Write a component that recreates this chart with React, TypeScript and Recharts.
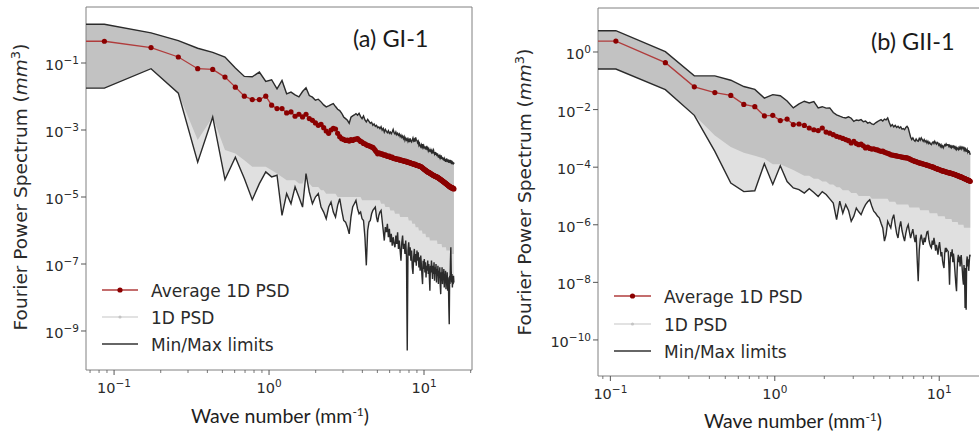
import React from 'react';
import { ComposedChart, Line, Area, XAxis, YAxis, ReferenceArea } from 'recharts';

// wave-number step of each panel (FFT bins k = n * dk), and the zero-frequency bin,
// which matplotlib clips at the left edge of a log axis
const DK_A = 0.0866;
const DK_B = 0.108;
const DC_K = 0.001;

// ---------- Panel (a) GI-1 : log10 of PSD values (mm^3) ----------
const avgA = [
  -0.35, -0.54, -0.82, -1.17, -1.19, -1.42, -1.72, -1.99, -2.09, -2.09,
  -1.99, -2.26, -2.36, -2.36, -2.49, -2.46, -2.59, -2.53, -2.61, -2.53,
  -2.66, -2.71, -2.79, -2.86, -2.83, -2.93, -3.03, -3.10, -3.00, -2.95,
  -2.97, -3.10, -3.20, -3.26, -3.28, -3.31, -3.30, -3.33, -3.29, -3.31,
  -3.28, -3.27, -3.26, -3.30, -3.34, -3.36, -3.40, -3.41, -3.44, -3.46,
  -3.47, -3.49, -3.51, -3.52, -3.56, -3.61, -3.66, -3.71, -3.68, -3.70,
  -3.72, -3.71, -3.74, -3.75, -3.74, -3.77, -3.78, -3.79, -3.78, -3.81,
  -3.82, -3.81, -3.84, -3.85, -3.86, -3.85, -3.87, -3.88, -3.87, -3.89,
  -3.90, -3.89, -3.91, -3.92, -3.91, -3.93, -3.94, -3.93, -3.95, -3.96,
  -3.95, -3.97, -3.98, -3.97, -3.99, -4.00, -4.01, -4.00, -4.02, -4.03,
  -4.02, -4.04, -4.05, -4.05, -4.06, -4.07, -4.06, -4.08, -4.09, -4.09,
  -4.10, -4.12, -4.13, -4.15, -4.16, -4.18, -4.19, -4.20, -4.21, -4.23,
  -4.24, -4.25, -4.26, -4.27, -4.27, -4.29, -4.30, -4.30, -4.32, -4.33,
  -4.33, -4.35, -4.36, -4.36, -4.37, -4.38, -4.38, -4.39, -4.40, -4.40,
  -4.41, -4.42, -4.43, -4.44, -4.45, -4.46, -4.47, -4.48, -4.49, -4.50,
  -4.51, -4.52, -4.53, -4.54, -4.55, -4.56, -4.57, -4.58, -4.59, -4.60,
  -4.61, -4.62, -4.63, -4.64, -4.65, -4.66, -4.67, -4.68, -4.69, -4.70,
  -4.70, -4.71, -4.72, -4.71, -4.73, -4.74, -4.73, -4.75, -4.74, -4.76,
];
const maxA = [
  0.155, -0.10, -0.33, -0.56, -0.68, -0.82, -1.15, -1.40, -1.41, -1.27,
  -1.55, -1.50, -1.77, -1.52, -1.92, -1.87, -1.95, -2.01, -1.85, -1.74,
  -1.97, -2.02, -2.11, -2.08, -2.16, -2.25, -2.31, -2.28, -2.24, -2.21,
  -2.30, -2.38, -2.42, -2.50, -2.61, -2.66, -2.71, -2.80, -2.62, -2.58,
  -2.55, -2.51, -2.56, -2.50, -2.60, -2.66, -2.58, -2.70, -2.76, -2.68,
  -2.74, -2.80, -2.77, -2.86, -2.82, -2.89, -2.86, -2.93, -2.91, -2.96,
  -2.90, -3.00, -2.95, -3.06, -2.98, -3.04, -3.08, -3.02, -3.10, -3.06,
  -3.11, -3.05, -2.98, -3.08, -3.12, -3.06, -3.14, -3.10, -3.16, -3.12,
  -3.20, -3.15, -3.22, -3.18, -3.26, -3.20, -3.31, -3.24, -3.30, -3.26,
  -3.34, -3.28, -3.36, -3.25, -3.33, -3.36, -3.30, -3.24, -3.32, -3.28,
  -3.35, -3.22, -3.30, -3.31, -3.38, -3.34, -3.45, -3.40, -3.48, -3.51,
  -3.44, -3.50, -3.42, -3.52, -3.47, -3.55, -3.49, -3.58, -3.52, -3.50,
  -3.60, -3.55, -3.62, -3.57, -3.64, -3.58, -3.66, -3.60, -3.66, -3.62,
  -3.70, -3.64, -3.60, -3.68, -3.72, -3.66, -3.74, -3.69, -3.71, -3.78,
  -3.70, -3.76, -3.82, -3.74, -3.80, -3.77, -3.84, -3.81, -3.76, -3.86,
  -3.80, -3.88, -3.82, -3.90, -3.84, -3.92, -3.86, -3.90, -3.95, -3.87,
  -3.93, -3.85, -3.96, -3.89, -3.94, -3.88, -3.98, -3.90, -3.95, -3.89,
  -3.99, -3.90, -3.96, -4.02, -3.92, -4.01, -3.95, -4.03, -3.97, -4.02,
];
const minA = [
  -1.75, -1.17, -1.90, -3.96, -2.61, -4.48, -3.81, -4.45, -5.08, -4.60,
  -4.25, -4.40, -4.35, -5.55, -4.90, -5.20, -4.70, -5.00, -5.30, -4.30,
  -4.85, -5.20, -5.00, -4.90, -5.30, -5.45, -5.65, -5.30, -5.15, -5.45,
  -5.60, -5.25, -5.05, -5.40, -5.70, -5.75, -5.90, -6.10, -5.60, -5.30,
  -5.20, -5.10, -5.35, -5.50, -5.45, -5.65, -5.70, -6.20, -7.04, -6.00,
  -5.75, -5.70, -5.50, -5.40, -5.35, -5.30, -5.60, -5.75, -5.55, -5.45,
  -5.40, -5.70, -6.00, -6.30, -5.90, -6.05, -5.80, -6.20, -5.95, -6.35,
  -6.10, -6.45, -6.20, -6.40, -6.50, -6.15, -6.40, -6.05, -6.55, -6.30,
  -6.60, -6.90, -6.35, -6.15, -6.55, -6.40, -6.70, -6.30, -6.80, -9.58,
  -6.60, -6.35, -6.75, -6.50, -6.90, -6.60, -7.10, -7.30, -6.80, -6.55,
  -6.95, -6.70, -7.05, -6.60, -6.90, -6.65, -7.10, -6.80, -7.20, -6.75,
  -7.00, -7.35, -7.60, -6.90, -7.15, -6.85, -7.25, -6.95, -7.40, -7.05,
  -7.20, -6.90, -7.30, -7.00, -7.40, -7.80, -7.05, -7.25, -6.90, -7.15,
  -7.45, -7.05, -7.30, -6.95, -7.50, -7.10, -7.30, -7.00, -7.55, -7.15,
  -7.35, -7.05, -7.60, -7.20, -7.40, -7.10, -7.65, -7.90, -7.25, -7.45,
  -7.10, -7.60, -7.25, -7.45, -7.15, -7.70, -7.30, -7.50, -7.20, -7.75,
  -7.35, -7.55, -7.25, -7.80, -7.40, -7.60, -8.30, -8.80, -7.35, -7.60,
  -6.90, -6.50, -7.20, -7.55, -7.30, -7.70, -7.45, -7.60, -7.35, -7.55,
];
// lower edge of the dense grey bundle of individual 1D PSD curves
const denseLowA = [
  -1.75, -1.17, -1.90, -3.30, -2.61, -3.60, -3.70, -3.90, -4.10, -4.10,
  -4.10, -4.20, -4.30, -4.40, -4.50, -4.50, -4.50, -4.60, -4.60, -4.30,
  -4.60, -4.70, -4.70, -4.70, -4.80, -4.80, -4.90, -4.90, -4.90, -4.90,
  -4.90, -5.00, -5.00, -5.00, -5.00, -5.00, -5.00, -5.00, -5.00, -5.00,
  -5.00, -5.00, -5.00, -5.00, -5.00, -5.10, -5.10, -5.10, -5.10, -5.10,
  -5.10, -5.10, -5.10, -5.10, -5.10, -5.10, -5.10, -5.10, -5.10, -5.10,
  -5.20, -5.20, -5.20, -5.20, -5.30, -5.30, -5.30, -5.30, -5.30, -5.40,
  -5.40, -5.40, -5.40, -5.40, -5.50, -5.50, -5.50, -5.50, -5.50, -5.50,
  -5.60, -5.60, -5.60, -5.60, -5.60, -5.60, -5.60, -5.60, -5.60, -5.60,
  -5.60, -5.70, -5.70, -5.70, -5.70, -5.70, -5.80, -5.80, -5.80, -5.80,
  -5.80, -5.90, -5.90, -5.90, -5.90, -5.90, -6.00, -6.00, -6.00, -6.00,
  -6.00, -6.00, -6.10, -6.10, -6.10, -6.10, -6.10, -6.10, -6.20, -6.20,
  -6.20, -6.20, -6.20, -6.20, -6.20, -6.30, -6.30, -6.30, -6.30, -6.30,
  -6.30, -6.30, -6.30, -6.30, -6.30, -6.30, -6.30, -6.30, -6.30, -6.30,
  -6.40, -6.40, -6.40, -6.40, -6.40, -6.40, -6.40, -6.40, -6.40, -6.40,
  -6.50, -6.50, -6.50, -6.50, -6.50, -6.50, -6.50, -6.50, -6.50, -6.50,
  -6.60, -6.60, -6.60, -6.60, -6.60, -6.60, -6.60, -6.60, -6.60, -6.60,
  -6.70, -6.70, -6.70, -6.70, -6.70, -6.70, -6.70, -6.70, -6.70, -6.70,
];

// ---------- Panel (b) GII-1 : log10 of PSD values (mm^3) ----------
const avgB = [
  0.38, -0.37, -1.21, -1.41, -1.51, -1.82, -1.90, -2.22, -2.20, -2.38,
  -2.33, -2.52, -2.50, -2.55, -2.64, -2.70, -2.73, -2.64, -2.78, -2.82,
  -2.87, -2.93, -2.96, -3.00, -3.04, -3.08, -3.16, -3.10, -3.18, -3.22,
  -3.20, -3.26, -3.33, -3.30, -3.35, -3.37, -3.36, -3.39, -3.40, -3.43,
  -3.45, -3.44, -3.48, -3.50, -3.52, -3.54, -3.57, -3.58, -3.59, -3.60,
  -3.61, -3.62, -3.63, -3.64, -3.65, -3.66, -3.67, -3.67, -3.68, -3.69,
  -3.71, -3.73, -3.75, -3.77, -3.78, -3.80, -3.81, -3.82, -3.84, -3.85,
  -3.86, -3.87, -3.88, -3.89, -3.90, -3.91, -3.92, -3.93, -3.94, -3.95,
  -3.96, -3.97, -3.98, -3.99, -4.00, -4.01, -4.03, -4.04, -4.05, -4.06,
  -4.07, -4.08, -4.09, -4.10, -4.11, -4.12, -4.13, -4.14, -4.14, -4.15,
  -4.16, -4.17, -4.17, -4.18, -4.19, -4.19, -4.20, -4.21, -4.21, -4.22,
  -4.23, -4.23, -4.24, -4.25, -4.25, -4.26, -4.27, -4.28, -4.29, -4.30,
  -4.30, -4.31, -4.32, -4.33, -4.34, -4.34, -4.35, -4.36, -4.37, -4.38,
  -4.39, -4.40, -4.40, -4.41, -4.42, -4.43, -4.44, -4.45, -4.45, -4.46,
  -4.47, -4.48, -4.49,
];
const maxB = [
  0.74, 0.01, -0.83, -0.83, -0.98, -1.20, -1.30, -1.60, -1.48, -1.52,
  -1.70, -1.94, -1.80, -1.71, -1.77, -1.72, -1.94, -1.90, -1.95, -1.94,
  -2.10, -2.18, -2.23, -2.27, -2.29, -2.25, -2.30, -2.41, -2.36, -2.38,
  -2.35, -2.42, -2.40, -2.47, -2.44, -2.50, -2.52, -2.46, -2.42, -2.38,
  -2.35, -2.40, -2.33, -2.36, -2.29, -2.45, -2.58, -2.52, -2.60, -2.55,
  -2.62, -2.58, -2.64, -2.60, -2.68, -2.66, -2.70, -2.62, -2.58, -2.64,
  -2.80, -2.95, -3.04, -2.98, -3.06, -3.10, -3.02, -3.08, -3.10, -3.00,
  -3.06, -2.98, -3.04, -3.10, -3.04, -3.12, -3.08, -3.16, -3.10, -3.18,
  -3.14, -3.20, -3.22, -3.15, -3.12, -3.18, -3.10, -3.16, -3.20, -3.14,
  -3.16, -3.24, -3.20, -3.28, -3.22, -3.30, -3.26, -3.33, -3.27, -3.22,
  -3.25, -3.19, -3.24, -3.22, -3.22, -3.28, -3.24, -3.30, -3.26, -3.32,
  -3.27, -3.30, -3.27, -3.33, -3.29, -3.36, -3.31, -3.38, -3.33, -3.36,
  -3.39, -3.32, -3.36, -3.30, -3.35, -3.31, -3.37, -3.33, -3.30, -3.33,
  -3.40, -3.35, -3.42, -3.37, -3.44, -3.45, -3.39, -3.47, -3.41, -3.50,
  -3.43, -3.52, -3.57,
];
const minB = [
  -0.59, -1.31, -2.20, -3.45, -4.55, -4.85, -4.82, -3.88, -4.60, -3.95,
  -4.50, -4.72, -4.78, -4.90, -4.75, -4.88, -5.02, -4.85, -4.95, -5.10,
  -5.25, -5.82, -5.18, -5.60, -5.30, -5.50, -5.88, -5.70, -5.42, -5.55,
  -5.65, -5.45, -5.30, -5.20, -5.13, -5.35, -5.53, -5.60, -5.70, -5.76,
  -5.95, -6.11, -6.57, -6.34, -5.88, -6.00, -6.11, -5.80, -5.65, -6.00,
  -6.30, -6.46, -6.10, -5.88, -6.20, -6.40, -6.57, -6.30, -6.10, -6.00,
  -6.25, -6.46, -6.30, -6.15, -6.40, -6.60, -6.35, -7.20, -7.96, -6.90,
  -6.50, -6.34, -6.55, -6.70, -6.45, -6.60, -6.40, -6.25, -6.23, -6.50,
  -6.65, -6.75, -6.80, -6.55, -6.70, -6.45, -6.65, -6.90, -6.70, -6.85,
  -7.04, -6.75, -6.60, -6.85, -7.10, -6.95, -7.25, -7.40, -7.50, -7.00,
  -6.80, -6.95, -6.85, -6.90, -6.92, -7.40, -8.08, -7.20, -6.95, -7.10,
  -6.85, -7.30, -7.00, -7.20, -7.50, -7.80, -8.10, -8.31, -7.60, -7.20,
  -7.04, -7.30, -7.10, -7.45, -7.20, -7.05, -7.35, -7.60, -7.90, -8.08,
  -7.40, -7.70, -8.89, -7.50, -8.95, -7.27, -7.10, -7.45, -7.20, -7.60,
  -7.30, -7.04, -7.10,
];
const denseLowB = [
  -0.59, -1.31, -2.20, -2.90, -3.30, -3.50, -3.60, -3.70, -3.90, -3.90,
  -4.00, -4.10, -4.20, -4.30, -4.30, -4.40, -4.40, -4.50, -4.50, -4.60,
  -4.60, -4.70, -4.70, -4.80, -4.80, -4.80, -4.90, -4.90, -4.90, -5.00,
  -5.00, -5.00, -5.00, -5.00, -5.00, -5.10, -5.10, -5.10, -5.10, -5.10,
  -5.10, -5.10, -5.10, -5.10, -5.10, -5.20, -5.20, -5.20, -5.20, -5.20,
  -5.30, -5.30, -5.30, -5.30, -5.30, -5.30, -5.30, -5.30, -5.30, -5.30,
  -5.40, -5.40, -5.40, -5.40, -5.40, -5.40, -5.40, -5.40, -5.40, -5.40,
  -5.50, -5.50, -5.50, -5.50, -5.50, -5.50, -5.50, -5.50, -5.50, -5.50,
  -5.60, -5.60, -5.60, -5.60, -5.60, -5.60, -5.60, -5.60, -5.60, -5.60,
  -5.70, -5.70, -5.70, -5.70, -5.70, -5.70, -5.70, -5.70, -5.70, -5.70,
  -5.80, -5.80, -5.80, -5.80, -5.80, -5.80, -5.80, -5.80, -5.80, -5.80,
  -5.90, -5.90, -5.90, -5.90, -5.90, -5.90, -5.90, -5.90, -5.90, -5.90,
  -6.00, -6.00, -6.00, -6.00, -6.00, -6.00, -6.00, -6.00, -6.00, -6.00,
  -6.10, -6.10, -6.10, -6.10, -6.10, -6.10, -6.10, -6.10, -6.10, -6.10,
  -6.10, -6.10, -6.10,
];

// ---------- axes ----------
const xDomainA = [0.0659, 20.4];
const yDomainA = [6.85e-11, 4.7];
const xDomainB = [0.0841, 19.8];
const yDomainB = [5.6e-12, 33.7];
const xTicksA = [0.07, 0.08, 0.09, 0.1, 0.2, 0.3, 0.4, 0.5, 0.6, 0.7, 0.8, 0.9, 1, 2, 3, 4, 5, 6, 7, 8, 9, 10, 20];
const xTicksB = [0.09, 0.1, 0.2, 0.3, 0.4, 0.5, 0.6, 0.7, 0.8, 0.9, 1, 2, 3, 4, 5, 6, 7, 8, 9, 10];
const yTicksA = [1e-1, 1e-3, 1e-5, 1e-7, 1e-9];
const yTicksB = [1, 1e-2, 1e-4, 1e-6, 1e-8, 1e-10];

const legendLabels = ['Average 1D PSD', '1D PSD', 'Min/Max limits'];

const TICK_FONT = 'DejaVu Sans';
const sup = (e: number) => (e < 0 ? '\u2212' + String(-e) : String(e));

function buildRows(dk: number, avg: number[], max: number[], min: number[], low: number[]) {
  const rows = avg.map((a, i) => {
    const hi = Math.pow(10, max[i]);
    const lo = Math.pow(10, min[i]);
    const dl = Math.pow(10, Math.max(low[i], min[i]));
    return { k: (i + 1) * dk, avg: Math.pow(10, a), max: hi, min: lo, band: [lo, hi], dense: [dl, hi] };
  });
  return [{ ...rows[0], k: DC_K }, ...rows];
}

const dataA = buildRows(DK_A, avgA, maxA, minA, denseLowA);
const dataB = buildRows(DK_B, avgB, maxB, minB, denseLowB);

const XTick = (props: any) => {
  const { x, y, payload } = props;
  const v = payload.value;
  const e = Math.round(Math.log10(v));
  const major = Math.abs(v / Math.pow(10, e) - 1) < 1e-6;
  return (
    <g>
      <line x1={x} x2={x} y1={y} y2={y + (major ? 5 : 3)} stroke="#555" strokeWidth={major ? 1 : 0.8} />
      {major && (
        <text x={x} y={y + 23} textAnchor="middle" fontFamily={TICK_FONT} fontSize={14.5} fill="#2a2a2a">
          10<tspan dy={-6} fontSize={10.5}>{sup(e)}</tspan>
        </text>
      )}
    </g>
  );
};

const YTick = (props: any) => {
  const { x, y, payload } = props;
  const e = Math.round(Math.log10(payload.value));
  return (
    <g>
      <line x1={x - 5} x2={x} y1={y} y2={y} stroke="#555" strokeWidth={1} />
      <text x={x - 7} y={y + 7} textAnchor="end" fontFamily={TICK_FONT} fontSize={14.5} fill="#2a2a2a">
        10<tspan dy={-6} fontSize={10.5}>{sup(e)}</tspan>
      </text>
    </g>
  );
};

const renderAvgDot = (p: any) => {
  if (p.index === 0) return <g key={`d${p.index}`} />;
  return <circle key={`d${p.index}`} cx={p.cx} cy={p.cy} r={2.6} fill="#8b0000" stroke="none" />;
};

type PanelProps = {
  data: any[];
  width: number;
  yAxisWidth: number;
  top: number;
  xAxisHeight: number;
  right: number;
  xDomain: number[];
  yDomain: number[];
  xTicks: number[];
  yTicks: number[];
};

const Panel = ({ data, width, yAxisWidth, top, xAxisHeight, right, xDomain, yDomain, xTicks, yTicks }: PanelProps) => (
  <ComposedChart width={width} height={436} data={data} margin={{ top, right, bottom: 0, left: 0 }}>
    <XAxis
      dataKey="k"
      type="number"
      scale="log"
      domain={xDomain}
      allowDataOverflow
      ticks={xTicks}
      interval={0}
      tick={<XTick />}
      tickLine={false}
      axisLine={false}
      tickSize={0}
      tickMargin={0}
      height={xAxisHeight}
    />
    <YAxis
      type="number"
      scale="log"
      domain={yDomain}
      allowDataOverflow
      ticks={yTicks}
      interval={0}
      tick={<YTick />}
      tickLine={false}
      axisLine={false}
      tickSize={0}
      tickMargin={0}
      width={yAxisWidth}
    />
    <Area dataKey="band" type="linear" stroke="none" fill="#e0e0e0" fillOpacity={1} isAnimationActive={false} />
    <Area dataKey="dense" type="linear" stroke="none" fill="#c2c2c2" fillOpacity={1} isAnimationActive={false} />
    <Line dataKey="min" type="linear" stroke="#2b2b2b" strokeWidth={1.4} dot={false} activeDot={false} isAnimationActive={false} />
    <Line dataKey="max" type="linear" stroke="#2b2b2b" strokeWidth={1.4} dot={false} activeDot={false} isAnimationActive={false} />
    <Line dataKey="avg" type="linear" stroke="#b03c3c" strokeWidth={1.3} dot={renderAvgDot} activeDot={false} isAnimationActive={false} />
    <ReferenceArea
      x1={xDomain[0]}
      x2={xDomain[1]}
      y1={yDomain[0]}
      y2={yDomain[1]}
      fill="none"
      fillOpacity={0}
      stroke="#808080"
      strokeWidth={1}
      ifOverflow="visible"
    />
  </ComposedChart>
);

const LegendBlock = ({ x0, x1, tx, ys }: { x0: number; x1: number; tx: number; ys: number[] }) => {
  const mid = (x0 + x1) / 2;
  return (
    <g>
      <line x1={x0} x2={x1} y1={ys[0]} y2={ys[0]} stroke="#b03c3c" strokeWidth={1.3} />
      <circle cx={mid} cy={ys[0]} r={2.6} fill="#8b0000" />
      <line x1={x0} x2={x1} y1={ys[1]} y2={ys[1]} stroke="#e2e2e2" strokeWidth={2} />
      <circle cx={mid} cy={ys[1]} r={1.6} fill="#c4c4c4" />
      <line x1={x0} x2={x1} y1={ys[2]} y2={ys[2]} stroke="#333" strokeWidth={1.6} />
      {legendLabels.map((t, i) => (
        <text key={t} x={tx} y={ys[i] + 6.5} fontFamily={TICK_FONT} fontSize={17} fill="#2a2a2a">
          {t}
        </text>
      ))}
    </g>
  );
};

const YLabel = ({ x, y }: { x: number; y: number }) => (
  <text transform={`translate(${x},${y}) rotate(-90)`} textAnchor="middle" fontFamily={TICK_FONT} fontSize={18.5} fill="#2a2a2a">
    Fourier Power Spectrum (<tspan fontStyle="italic">mm</tspan>
    <tspan dy={-7.5} fontSize={13}>3</tspan>
    <tspan dy={7.5}>)</tspan>
  </text>
);

const XLabel = ({ x, y }: { x: number; y: number }) => (
  <text x={x} y={y} textAnchor="middle" fontFamily="Lato" fontSize={19.5} fill="#1e1e1e">
    Wave number (mm<tspan dy={-7.5} fontSize={12}>-1</tspan>
    <tspan dy={7.5}>)</tspan>
  </text>
);

export default function App() {
  return (
    <div style={{ position: 'absolute', left: 0, top: 0, width: 979, height: 436, overflow: 'hidden', background: '#fff' }}>
      <div style={{ position: 'absolute', left: 0, top: 0 }}>
        <Panel
          data={dataA}
          width={490}
          yAxisWidth={86}
          top={7}
          xAxisHeight={66}
          right={18}
          xDomain={xDomainA}
          yDomain={yDomainA}
          xTicks={xTicksA}
          yTicks={yTicksA}
        />
      </div>
      <div style={{ position: 'absolute', left: 490, top: 0 }}>
        <Panel
          data={dataB}
          width={510}
          yAxisWidth={108}
          top={8}
          xAxisHeight={60}
          right={12}
          xDomain={xDomainB}
          yDomain={yDomainB}
          xTicks={xTicksB}
          yTicks={yTicksB}
        />
      </div>
      <svg width={979} height={436} style={{ position: 'absolute', left: 0, top: 0, pointerEvents: 'none' }}>
        <text x={353} y={47} fontFamily="Lato" fontSize={23.5} fill="#1a1a1a">(a) GI-1</text>
        <text x={871} y={50} fontFamily="Lato" fontSize={23.5} fill="#1a1a1a">(b) GII-1</text>
        <YLabel x={27} y={187} />
        <YLabel x={531} y={192} />
        <XLabel x={280} y={423} />
        <XLabel x={793} y={428} />
        <LegendBlock x0={102} x1={138} tx={151} ys={[290, 317, 344]} />
        <LegendBlock x0={614} x1={651} tx={664} ys={[296, 324, 351]} />
      </svg>
    </div>
  );
}
